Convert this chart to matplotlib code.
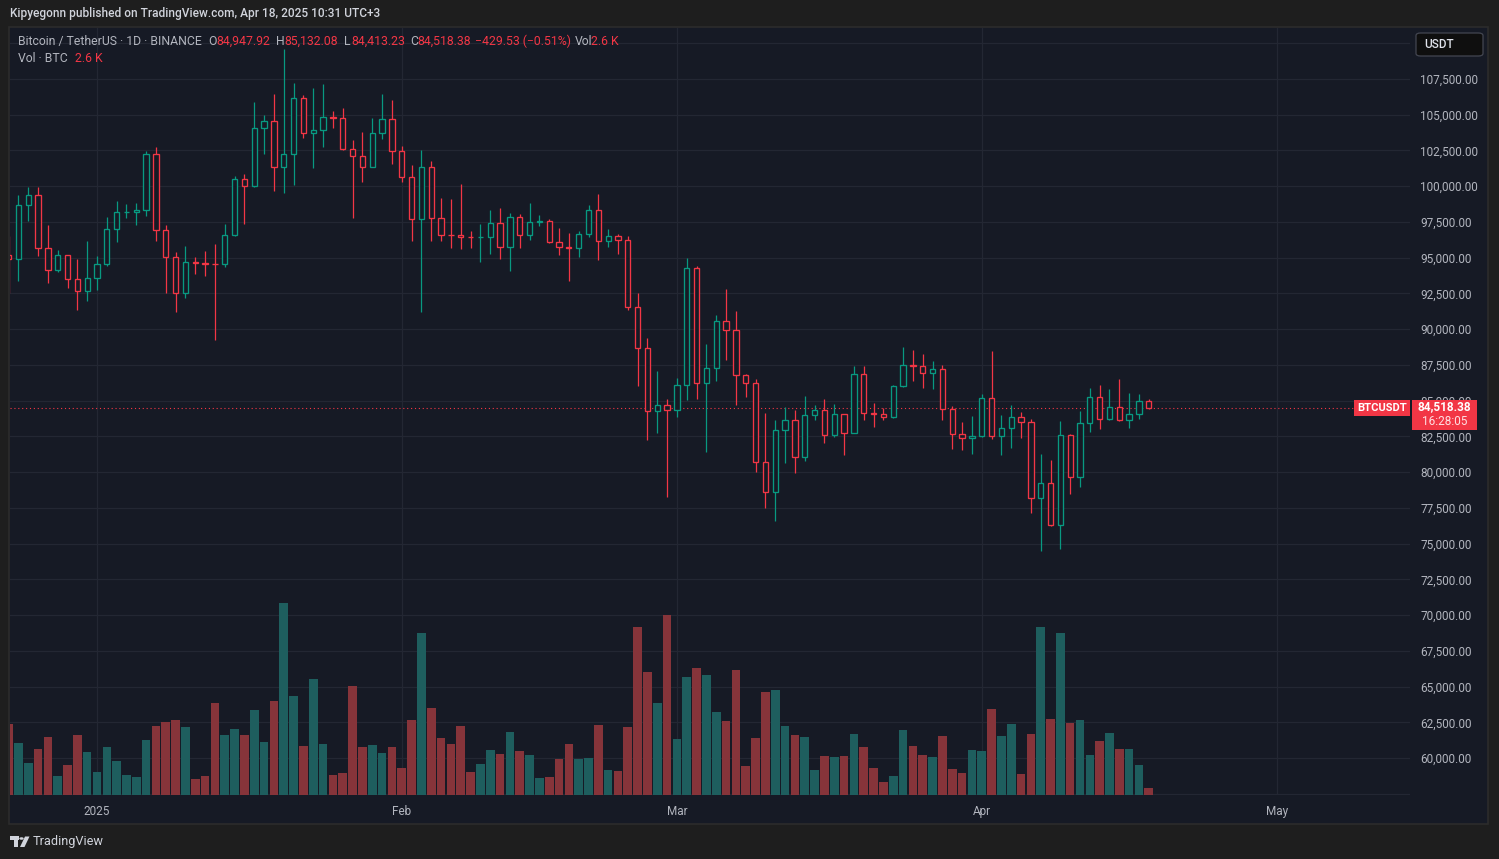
import matplotlib
matplotlib.use('Agg')
import matplotlib.pyplot as plt
from matplotlib.patches import Rectangle, FancyBboxPatch, Circle, Polygon
import numpy as np
import pandas as pd

plt.rcParams['font.family'] = ['Roboto', 'DejaVu Sans']

W, H = 1499, 859

# ---------------- data ----------------
dates = pd.date_range('2024-12-23', '2025-04-18', freq='D')

opens = [95186, 94877, 98717, 99420, 95705, 94164, 95163, 93530, 92643,
         93576, 94591, 96984, 98174, 98220, 98364, 102235, 96954, 95060, 92552,
         94726, 94599, 94545, 94536, 96560, 100497, 99987, 104077, 104556, 101335,
         102260, 106143, 103706, 103910, 104870, 104746, 102620, 102082, 101335,
         103733, 104722,
         102429, 100635, 97700, 101328, 97763, 96612, 96555, 96482, 96465, 96480,
         97430, 95778, 97869, 96608, 97500, 97569, 96118, 95780, 95671, 96644,
         98305, 96181, 96551, 96258, 91552, 88680, 84250, 84708,
         84349, 86064, 94270, 86220, 87281, 90606, 89931, 86801, 86222, 80734,
         78595, 82932, 83680, 81066, 83969, 84343, 82580, 84075, 82719, 86854,
         84167, 84043, 83832, 86054, 87498, 87392, 86910, 87232, 84424, 82648,
         82389,
         82550, 85159, 82516, 83102, 83843, 83504, 78214, 79235, 76271, 82573,
         79626, 83404, 85287, 83684, 84542, 83629, 84033, 84947.92]
highs = [96538, 99416, 99962, 99963, 97294, 95525, 95174, 94903, 96150,
         95151, 97839, 98976, 98778, 98836, 102480, 102724, 97259, 95382, 95837,
         95050, 95450, 95940, 97371, 100681, 100866, 105865, 104988, 106422, 109588,
         107240, 106394, 106850, 107120, 105286, 105500, 103260, 103784, 104800,
         106457, 106012,
         102783, 101456, 102500, 101745, 99149, 99120, 100137, 96880, 97323, 98345,
         98478, 98119, 98076, 98826, 97972, 97725, 97046, 96753, 96899, 98711,
         99475, 96980, 96650, 96500, 92540, 89414, 87078, 85120,
         86558, 95000, 94416, 88967, 90998, 92811, 91283, 86897, 86500, 84123,
         83617, 84539, 84336, 85310, 84672, 85117, 84756, 84075, 87453, 87443,
         84850, 84500, 86129, 88765, 88542, 88292, 87786, 87515, 84624, 83535,
         83943,
         85487, 88500, 83998, 84720, 84234, 83704, 81243, 80867, 83588, 82700,
         84300, 85905, 86100, 85799, 86496, 85500, 85470, 85132.08]
lows = [92520, 93376, 97596, 95137, 93200, 94014, 92881, 91317, 92000,
        92743, 94392, 96100, 97781, 97276, 97920, 96181, 92500, 91203, 92206,
        93831, 93711, 89256, 94346, 96500, 97335, 99950, 102278, 99651, 99550,
        100119, 103339, 101262, 102750, 104106, 102520, 97777, 100279, 101328,
        103321, 101560,
        100279, 96150, 91231, 96150, 96155, 95676, 95620, 95688, 94713, 95256,
        94876, 94088, 95700, 96252, 97223, 96055, 95205, 93388, 95029, 96415,
        94871, 95770, 95227, 91371, 86050, 82256, 82716, 78258,
        83824, 85050, 85117, 81390, 86379, 87852, 84667, 85248, 80000, 77459,
        76607, 80607, 79939, 80797, 83639, 82017, 82457, 81180, 82715, 83647,
        83175, 83647, 83796, 85946, 86346, 85862, 85838, 83645, 81644, 81565,
        81279,
        82429, 82320, 81211, 81659, 82372, 77153, 74508, 76239, 74620, 78456,
        78936, 82792, 83034, 83678, 83600, 83112, 83736, 84413.23]
closes = [94877, 98717, 99420, 95705, 94164, 95163, 93530, 92643, 93576,
          94591, 96984, 98174, 98220, 98364, 102235, 96954, 95060, 92552, 94726,
          94599, 94545, 94536, 96560, 100497, 99987, 104077, 104556, 101335, 102260,
          106143, 103706, 103910, 104870, 104746, 102620, 102082, 101335, 103733,
          104722, 102429,
          100635, 97700, 101328, 97763, 96612, 96555, 96482, 96465, 96480, 97430,
          95778, 97869, 96608, 97500, 97569, 96118, 95780, 95671, 96644, 98305,
          96181, 96551, 96258, 91552, 88680, 84250, 84708, 84349,
          86064, 94270, 86220, 87281, 90606, 89931, 86801, 86222, 80734, 78595,
          82932, 83680, 81066, 83969, 84343, 82580, 84075, 82719, 86854, 84167,
          84043, 83832, 86054, 87498, 87392, 86910, 87232, 84424, 82648, 82389,
          82550,
          85159, 82516, 83102, 83843, 83504, 78214, 79235, 76271, 82573, 79626,
          83404, 85287, 83684, 84542, 83629, 84033, 84947.91, 84518.38]
# volume in thousands of BTC
volumes_k = [26.3, 19.2, 11.8, 17.0, 21.5, 7.0, 11.1, 22.2, 15.9,
             8.5, 17.8, 12.6, 7.4, 6.7, 20.4, 25.5, 27.0, 27.8, 25.2,
             5.9, 7.0, 34.0, 22.2, 24.4, 22.2, 31.5, 19.6, 34.8, 71.0,
             36.6, 18.1, 42.9, 18.9, 7.4, 8.1, 40.3, 17.8, 18.5, 15.5, 17.8,
             10.0, 27.8, 59.9, 32.2, 21.1, 18.9, 25.5, 8.5, 11.5, 16.7,
             15.2, 23.3, 16.3, 14.8, 6.3, 6.7, 13.3, 18.9, 13.3, 13.7,
             25.9, 9.3, 8.9, 25.2, 62.2, 45.5, 34.0, 66.6,
             20.7, 43.7, 47.0, 44.4, 30.7, 27.4, 46.3, 10.7, 21.1, 38.1,
             38.9, 25.5, 22.2, 21.5, 9.3, 14.4, 14.1, 14.4, 22.6, 17.8,
             10.0, 4.8, 7.0, 24.1, 18.1, 14.8, 14.1, 21.8, 9.6, 8.1, 16.7,
             16.3, 31.8, 21.8, 26.3, 7.8, 22.6, 62.2, 28.1, 59.9, 26.6,
             27.8, 14.8, 20.0, 22.9, 17.0, 17.0, 11.1, 2.6]

price_ticks = list(range(60000, 107501, 2500))
grid_prices = list(range(57500, 110001, 2500))
month_labels = ['2025', 'Feb', 'Mar', 'Apr', 'May']
month_dates = pd.to_datetime(['2025-01-01', '2025-02-01', '2025-03-01',
                              '2025-04-01', '2025-05-01'])

# ---------------- style ----------------
BG_OUT = '#1e1e1e'
BG = '#161a25'
GRID = '#232733'
TXT = '#b2b5be'
GREEN = '#089981'
RED = '#f23645'
VGREEN = '#1e5e5e'
VRED = '#86343a'

fig = plt.figure(figsize=(W / 100, H / 100), dpi=100)
fig.patch.set_facecolor(BG_OUT)


def fx(x):
    return x / W


def fy(y):
    return 1 - y / H


# chart panel (behind axes)
fig.patches.append(Rectangle((fx(9), fy(824)), (1488 - 9) / W, (824 - 27) / H,
                             transform=fig.transFigure, facecolor=BG,
                             edgecolor='#2c2c2c', lw=1.2, zorder=-5))

ax = fig.add_axes([fx(10), fy(795), 1400 / W, 767 / H])
ax.set_facecolor(BG)
ax.set_zorder(1)
for s in ax.spines.values():
    s.set_visible(False)

ref = pd.Timestamp('2025-01-01')
t = np.array([(d - ref).days for d in dates], dtype=float)
mt = np.array([(d - ref).days for d in month_dates], dtype=float)

ppd = 9.83
x_at0 = 97.0
ax.set_xlim((10 - x_at0) / ppd, (1410 - x_at0) / ppd)
ax.set_ylim(57413, 111068)

for p in grid_prices:
    ax.axhline(p, color=GRID, lw=0.9, zorder=0)
for m in mt:
    ax.axvline(m, color=GRID, lw=0.9, zorder=0)

# candles (hollow bodies)
bw = 0.54
for xi, o, h, l, c in zip(t, opens, highs, lows, closes):
    col = GREEN if c >= o else RED
    ax.vlines(xi, l, h, color=col, lw=0.9, zorder=2)
    lo_b = min(o, c)
    hb = max(abs(c - o), 1.0)
    ax.add_patch(Rectangle((xi - bw / 2, lo_b), bw, hb, facecolor=BG,
                           edgecolor=col, lw=0.95, zorder=3))

# current price dotted line
last = closes[-1]
ax.axhline(last, color=RED, lw=0.8, ls=(0, (1, 2.5)), zorder=1)

# ticks
ax.yaxis.tick_right()
ax.set_yticks(price_ticks)
ax.set_yticklabels([f"{p:,.2f}" for p in price_ticks])
ax.set_xticks(mt)
ax.set_xticklabels(month_labels)
ax.tick_params(axis='both', length=0, colors=TXT, labelsize=8.5)
ax.tick_params(axis='y', pad=7.5)
ax.tick_params(axis='x', pad=7)
for lab in ax.get_yticklabels():
    lab.set_horizontalalignment('left')

# volume overlay
axv = fig.add_axes(ax.get_position())
axv.set_zorder(2)
axv.patch.set_visible(False)
axv.set_xlim(ax.get_xlim())
axv.set_ylim(0, 284)
axv.set_xticks([])
axv.set_yticks([])
for s in axv.spines.values():
    s.set_visible(False)
vcols = [VGREEN if c >= o else VRED for o, c in zip(opens, closes)]
axv.bar(t, volumes_k, width=0.88, color=vcols, zorder=1)

# ---------------- overlays in pixel space ----------------
fig.canvas.draw()
y_disp = ax.transData.transform((0, last))[1]
y_px = H - y_disp  # from top

# BTCUSDT label
fig.patches.append(Rectangle((fx(1354), fy(y_px + 8)), 56 / W, 16 / H,
                             transform=fig.transFigure, facecolor=RED,
                             edgecolor='none', zorder=5))
fig.text(fx(1382), fy(y_px + 0.5), 'BTCUSDT', color='white', fontsize=8,
         fontweight='bold', ha='center', va='center', zorder=6)
# price box
fig.patches.append(Rectangle((fx(1412), fy(y_px + 22)), 65 / W, 30 / H,
                             transform=fig.transFigure, facecolor=RED,
                             edgecolor='none', zorder=5))
fig.text(fx(1444.5), fy(y_px - 1), f"{last:,.2f}", color='white', fontsize=8.5,
         fontweight='bold', ha='center', va='center', zorder=6)
fig.text(fx(1444.5), fy(y_px + 14), '16:28:05', color='#ffdfe2', fontsize=8.5,
         ha='center', va='center', zorder=6)

# USDT box
fig.patches.append(FancyBboxPatch((fx(1416), fy(56)), 67 / W, 23 / H,
                                  boxstyle='round,pad=0,rounding_size=0.003',
                                  transform=fig.transFigure, facecolor='#0f0f0f',
                                  edgecolor='#434651', lw=0.9, zorder=5))
fig.text(fx(1424), fy(44.5), 'USDT', color='#e0e3eb', fontsize=8.5,
         fontweight='medium', ha='left', va='center', zorder=6)

# header
fig.text(fx(10), fy(14), 'Kipyegonn published on TradingView.com, Apr 18, 2025 10:31 UTC+3',
         color='#d1d4dc', fontsize=8.6, fontweight='medium', ha='left', va='center')

# legend line 1
chg = closes[-1] - closes[-2]
pct = chg / closes[-2] * 100


def fmt_signed(v, dec=2):
    s = f"{abs(v):,.{dec}f}"
    return ('\u2212' if v < 0 else '+') + s


LFS = 8.8
pieces = [
    (18, 'Bitcoin / TetherUS \u00b7 1D \u00b7 BINANCE', TXT),
    (208, 'O', TXT), (216, f"{opens[-1]:,.2f}", RED),
    (276, 'H', TXT), (284, f"{highs[-1]:,.2f}", RED),
    (344, 'L', TXT), (351, f"{lows[-1]:,.2f}", RED),
    (410, 'C', TXT), (417, f"{closes[-1]:,.2f}", RED),
    (475, f"{fmt_signed(chg)} ({fmt_signed(pct)}%)", RED),
    (575, 'Vol', TXT), (591, f"{volumes_k[-1]:.1f} K", RED),
]
for xp, s, c in pieces:
    fig.text(fx(xp), fy(41.5), s, color=c, fontsize=LFS, ha='left', va='center', zorder=6)
fig.text(fx(18), fy(58.5), 'Vol \u00b7 BTC', color=TXT, fontsize=LFS, ha='left', va='center')
fig.text(fx(75), fy(58.5), f"{volumes_k[-1]:.1f} K", color=RED, fontsize=LFS,
         ha='left', va='center')

# TradingView logo (bottom-left)
lc = '#d1d4dc'
fig.patches.append(Rectangle((fx(10), fy(840)), 9 / W, 4 / H, transform=fig.transFigure,
                             facecolor=lc, edgecolor='none'))
fig.patches.append(Rectangle((fx(14), fy(847)), 4 / W, 10 / H, transform=fig.transFigure,
                             facecolor=lc, edgecolor='none'))
fig.patches.append(Circle((fx(21.5), fy(838.5)), 2.2 / W, transform=fig.transFigure,
                          facecolor=lc, edgecolor='none'))
fig.patches.append(Polygon([(fx(25), fy(836.5)), (fx(29.5), fy(836.5)),
                            (fx(24.5), fy(847)), (fx(20), fy(847))],
                           closed=True, transform=fig.transFigure, facecolor=lc,
                           edgecolor='none'))
fig.text(fx(33), fy(841.5), 'TradingView', color=lc, fontsize=9.2, ha='left', va='center')

fig.savefig('out.png', dpi=100, facecolor=fig.get_facecolor())
